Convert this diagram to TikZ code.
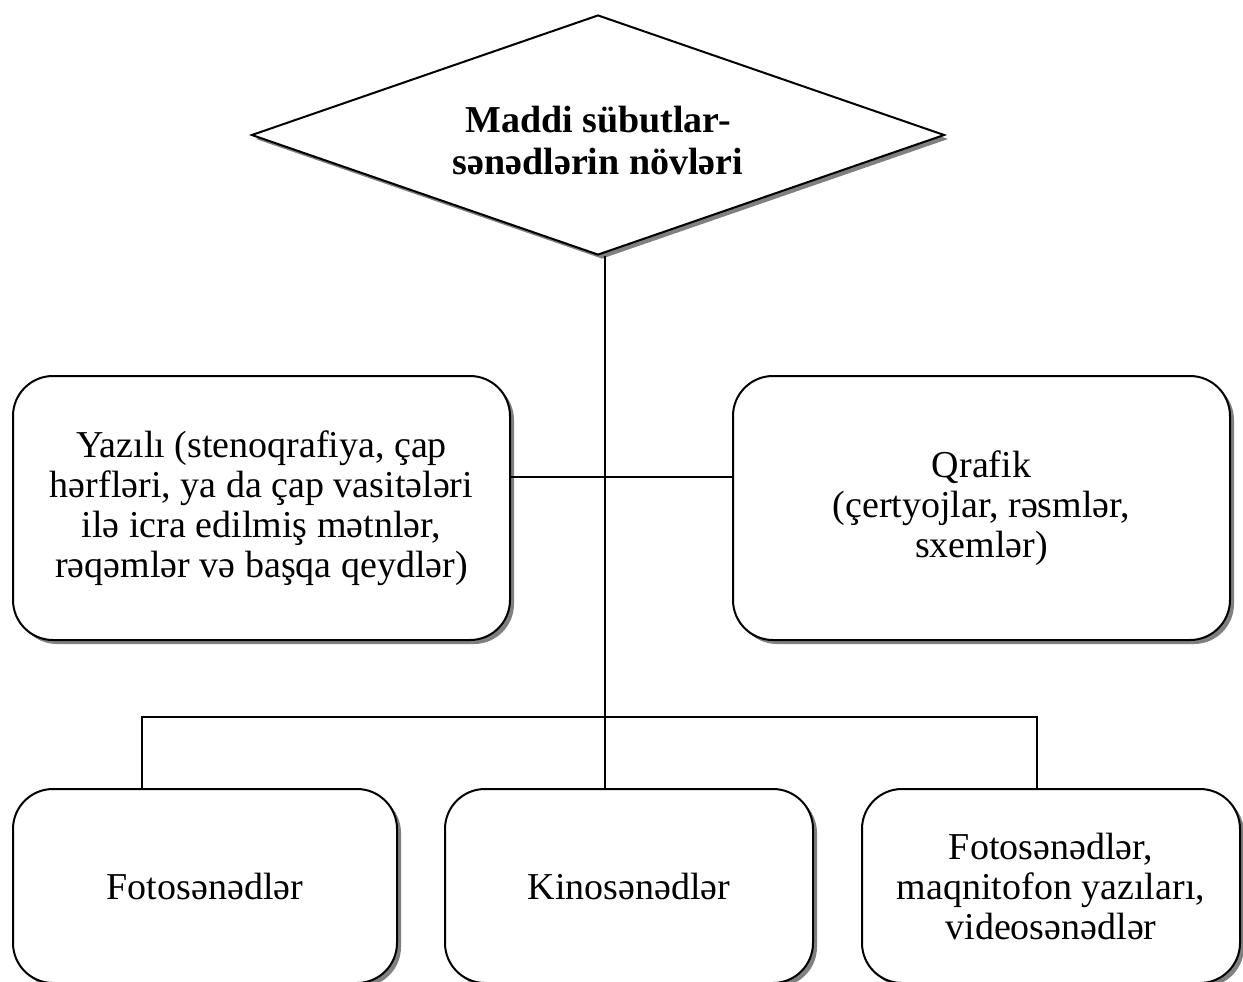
\documentclass[tikz,border=0pt]{standalone}
\usepackage{fontspec}
\setmainfont{Liberation Serif}
\usetikzlibrary{shapes.geometric,shadows}
\begin{document}
\begin{tikzpicture}[x=0.5pt, y=-0.5pt, line width=1pt,
    every node/.style={font=\fontsize{19}{20}\selectfont, align=center},
    kolge/.style={drop shadow={shadow xshift=2pt, shadow yshift=-2pt, fill=black!50, opacity=1}},
    kutu/.style={draw, fill=white, rounded corners=20pt, inner sep=0pt, kolge},
    romb/.style={draw, fill=white, diamond, aspect=2.9, inner sep=0pt,
      minimum width=346.5pt, minimum height=120pt, kolge,
      font=\fontsize{19}{21}\selectfont\bfseries}]
	% 页面
	\useasboundingbox (0,0) rectangle (1243,981);
	\clip (0,0) rectangle (1243,981);
	
	% 菱形
	\node[romb] (nov) at (598,135)
		{\raisebox{-9.25pt}[0pt][0pt]{\begin{tabular}{@{}c@{}}Maddi sübutlar-\\sənədlərin növləri\end{tabular}}};
	
	% 中层
	\node[kutu, minimum width=248.5pt, minimum height=132pt] (yazili) at (261.5,508)
		{Yazılı (stenoqrafiya, çap\\hərfləri, ya da çap vasitələri\\ilə icra edilmiş mətnlər,\\rəqəmlər və başqa qeydlər)};
	\node[kutu, minimum width=248.5pt, minimum height=132pt] (qrafik) at (981.5,508)
		{Qrafik\\(çertyojlar, rəsmlər,\\sxemlər)};
	
	% 下层
	\node[kutu, minimum width=192pt, minimum height=97pt] (foto) at (205,886) {Fotosənədlər};
	\node[kutu, minimum width=184pt, minimum height=97pt] (kino) at (629,886) {Kinosənədlər};
	\node[kutu, minimum width=189pt, minimum height=97pt] (video) at (1051,886)
		{Fotosənədlər,\\maqnitofon yazıları,\\videosənədlər};
	
	% 连线
	\coordinate (orta) at (605,477);
	\coordinate (hub) at (605,717);
	\coordinate (sol) at (142,717);
	\coordinate (sag) at (1037,717);
	\draw (nov.south -| hub) -- (hub) -- (kino.north -| hub);
	\draw (yazili.east |- orta) -- (qrafik.west |- orta);
	\draw (sol |- foto.north) -- (sol) -- (sag) -- (sag |- video.north);
\end{tikzpicture}
\end{document}
